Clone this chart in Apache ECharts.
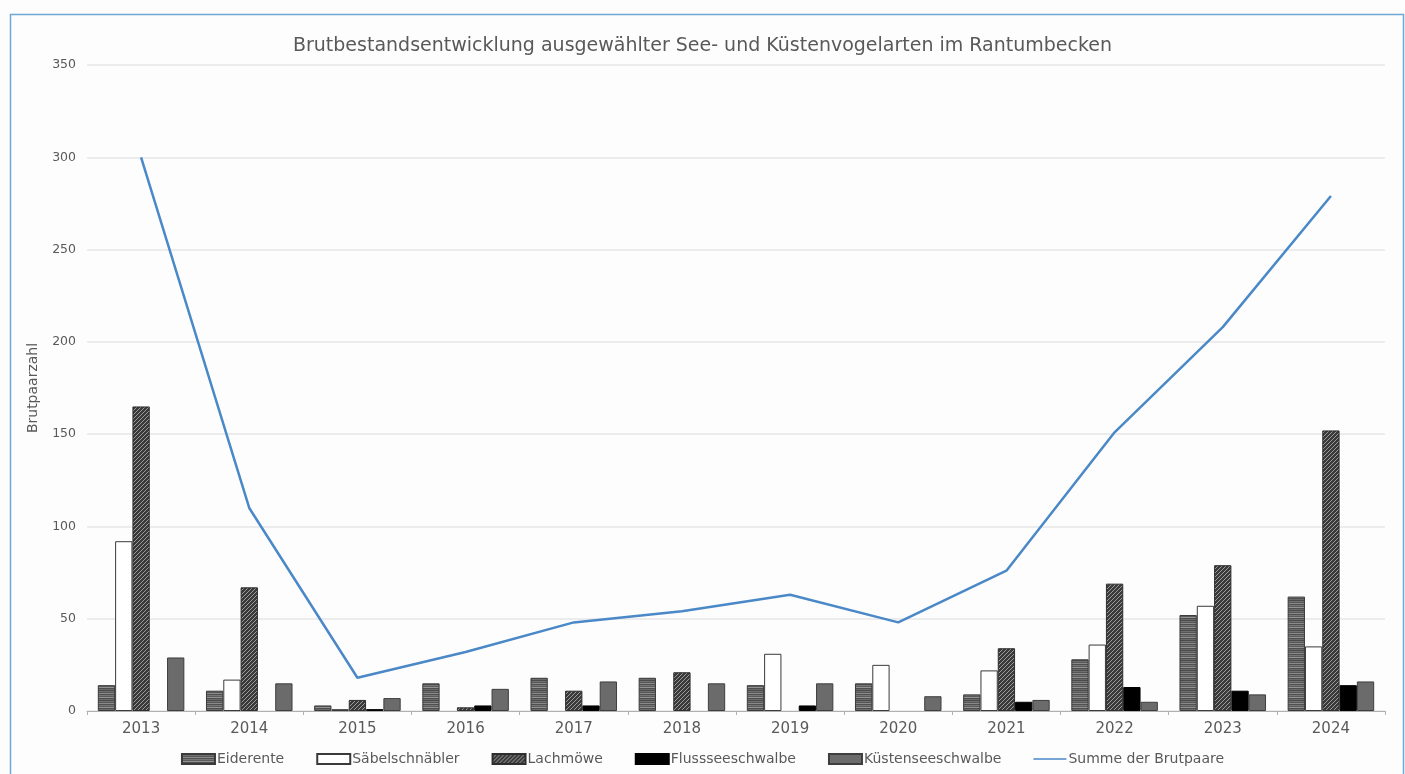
<!DOCTYPE html>
<html>
<head>
<meta charset="utf-8">
<script src="https://cdn.jsdelivr.net/npm/echarts@6/dist/echarts.min.js"></script>
<style>
html,body{margin:0;padding:0;background:#fdfdfd;}
#chart{width:1405px;height:774px;}
</style>
</head>
<body>
<div id="chart"></div>
<script>
var years = ['2013','2014','2015','2016','2017','2018','2019','2020','2021','2022','2023','2024'];
var eiderente = [14, 11, 3, 15, 18, 18, 14, 15, 9, 28, 52, 62];
var saebelschnaebler = [92, 17, 1, 0, 0, 0, 31, 25, 22, 36, 57, 35];
var lachmoewe = [165, 67, 6, 2, 11, 21, 0, 0, 34, 69, 79, 152];
var flussseeschwalbe = [0, 0, 1, 3, 3, 0, 3, 0, 5, 13, 11, 14];
var kuestenseeschwalbe = [29, 15, 7, 12, 16, 15, 15, 8, 6, 5, 9, 16];
var summe = [300, 110, 18, 32, 48, 54, 63, 48, 76, 151, 208, 279];
var yTicks = [0, 50, 100, 150, 200, 250, 300, 350];

function stripePattern() {
  var c = document.createElement('canvas');
  c.width = 4; c.height = 10;
  var ctx = c.getContext('2d');
  var rows = ['#4b4b4b','#707070','#565656','#8a8a8a','#505050','#767676','#5c5c5c','#939393','#4e4e4e','#6a6a6a'];
  for (var i = 0; i < rows.length; i++) { ctx.fillStyle = rows[i]; ctx.fillRect(0, i, 4, 1); }
  return c;
}
function hatchPattern() {
  var c = document.createElement('canvas');
  c.width = 4; c.height = 4;
  var ctx = c.getContext('2d');
  ctx.fillStyle = '#3a3a3a'; ctx.fillRect(0, 0, 4, 4);
  ctx.fillStyle = '#9c9c9c';
  for (var i = 0; i < 4; i++) { ctx.fillRect((3 - i), i, 1, 1); }
  return c;
}
var stripeFill = { image: stripePattern(), repeat: 'repeat' };
var hatchFill = { image: hatchPattern(), repeat: 'repeat' };

var font = 'DejaVu Sans, sans-serif';
var chart = echarts.init(document.getElementById('chart'));
function bar(name, data, color, border) {
  return {
    name: name, type: 'bar',
    data: data.map(function (v) { return v === 0 ? { value: v, itemStyle: { borderWidth: 0 } } : v; }),
    barGap: '0%', barCategoryGap: '20%',
    itemStyle: { color: color, borderColor: border, borderWidth: 1 },
    emphasis: { disabled: true }
  };
}
chart.setOption({
  backgroundColor: '#fdfdfd',
  animation: false,
  title: {
    text: 'Brutbestandsentwicklung ausgewählter See- und Küstenvogelarten im Rantumbecken',
    left: 'center', top: 32,
    textStyle: { fontFamily: font, fontSize: 19, fontWeight: 'normal', color: '#595959' }
  },
  graphic: [{
    type: 'rect', left: 8, top: 12, silent: true,
    shape: { width: 1393, height: 800 },
    style: { fill: 'none', stroke: '#6fa8d6', lineWidth: 1.5 }
  }],
  legend: {
    bottom: 3, left: 'center',
    itemWidth: 33, itemHeight: 10, itemGap: 32, icon: 'rect',
    textStyle: { fontFamily: font, fontSize: 14, color: '#595959', padding: [0, 0, 0, -3] },
    data: [
      'Eiderente', 'Säbelschnäbler', 'Lachmöwe', 'Flussseeschwalbe', 'Küstenseeschwalbe',
      { name: 'Summe der Brutpaare', icon: 'path://M0,0L0,0.01M0,4.2L33,4.2L33,5.8L0,5.8ZM33,10L33,9.99' }
    ]
  },
  grid: { left: 87, right: 20, top: 65, bottom: 63, containLabel: false },
  xAxis: {
    type: 'category', data: years, boundaryGap: true,
    axisLine: { lineStyle: { color: '#b0b0b0', width: 1 } },
    axisTick: { show: true, alignWithLabel: false, length: 4, lineStyle: { color: '#b0b0b0' } },
    axisLabel: { fontFamily: font, fontSize: 15, color: '#595959', margin: 11 }
  },
  yAxis: {
    type: 'value', min: yTicks[0], max: yTicks[yTicks.length - 1], interval: 50,
    name: 'Brutpaarzahl', nameLocation: 'middle', nameGap: 47, nameRotate: 90,
    nameTextStyle: { fontFamily: font, fontSize: 14, color: '#595959' },
    axisLine: { show: false }, axisTick: { show: false },
    axisLabel: { fontFamily: font, fontSize: 12.5, color: '#595959', margin: 11 },
    splitLine: { lineStyle: { color: '#e6e6e6', width: 1.5 } }
  },
  series: [
    bar('Eiderente', eiderente, stripeFill, '#3a3a3a'),
    bar('Säbelschnäbler', saebelschnaebler, '#ffffff', '#3a3a3a'),
    bar('Lachmöwe', lachmoewe, hatchFill, '#2e2e2e'),
    bar('Flussseeschwalbe', flussseeschwalbe, '#000000', '#000000'),
    bar('Küstenseeschwalbe', kuestenseeschwalbe, '#6b6b6b', '#3e3e3e'),
    {
      name: 'Summe der Brutpaare', type: 'line', data: summe,
      symbol: 'none', showSymbol: false,
      lineStyle: { color: '#4a88c7', width: 2.5 },
      itemStyle: { color: '#4a88c7' },
      emphasis: { disabled: true }, z: 5
    }
  ]
});
</script>
</body>
</html>
